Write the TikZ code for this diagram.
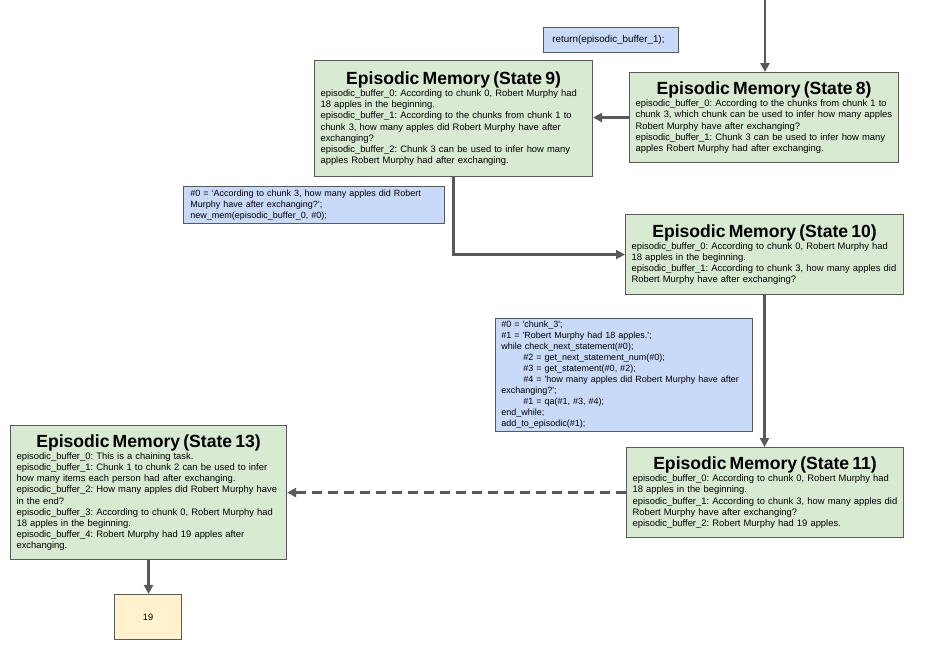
\documentclass[tikz,border=0pt]{standalone}
\usepackage{fontspec}
\setmainfont{Liberation Sans}
\usetikzlibrary{arrows.meta}
\definecolor{gfill}{HTML}{D9EAD3}
\definecolor{bfill}{HTML}{C9DAF8}
\definecolor{yfill}{HTML}{FFF2CC}
\definecolor{edgec}{HTML}{595959}
\frenchspacing
\newcommand{\memtitle}[1]{\makebox[\linewidth][c]{\fontsize{17.6}{20}\selectfont\bfseries #1}\\[1pt]}
\tikzset{
  membox/.style={draw=edgec, line width=1.1pt, fill=gfill, anchor=north west, inner sep=0pt,
    align=left, font=\fontsize{9.4}{11.1}\selectfont},
  codebox/.style={draw=edgec, line width=0.9pt, fill=bfill, anchor=north west, inner sep=0pt,
    align=left, font=\fontsize{9}{11}\selectfont},
  ansbox/.style={draw=edgec, line width=1.1pt, fill=yfill, anchor=north west, inner sep=0pt,
    align=center, font=\fontsize{9.2}{11}\selectfont},
  arr/.style={draw=edgec, line width=2.2pt, -{Triangle[length=9pt,width=9pt]}},
}
\begin{document}
\begin{tikzpicture}[x=1pt,y=-1pt]
\useasboundingbox (0,0) rectangle (927,657);
\fill[white] (0,0) rectangle (927,657);

\node[membox, minimum width=278pt, minimum height=116pt, text width=266pt] (s9) at (314,60) {%
\memtitle{Episodic Memory (State 9)}%
episodic\_buffer\_0: According to chunk 0, Robert Murphy had\\
18 apples in the beginning.\\
episodic\_buffer\_1: According to the chunks from chunk 1 to\\
chunk 3, how many apples did Robert Murphy have after\\
exchanging?\\
episodic\_buffer\_2: Chunk 3 can be used to infer how many\\
apples Robert Murphy had after exchanging.};

\node[membox, minimum width=269pt, minimum height=90pt, text width=257pt] (s8) at (629,72) {%
\memtitle{Episodic Memory (State 8)}%
episodic\_buffer\_0: According to the chunks from chunk 1 to\\
chunk 3, which chunk can be used to infer how many apples\\
Robert Murphy have after exchanging?\\
episodic\_buffer\_1: Chunk 3 can be used to infer how many\\
apples Robert Murphy had after exchanging.};

\node[membox, minimum width=278pt, minimum height=80pt, text width=266pt] (s10) at (625,214) {%
\memtitle{Episodic Memory (State 10)}%
episodic\_buffer\_0: According to chunk 0, Robert Murphy had\\
18 apples in the beginning.\\
episodic\_buffer\_1: According to chunk 3, how many apples did\\
Robert Murphy have after exchanging?};

\node[membox, minimum width=277pt, minimum height=90pt, text width=265pt] (s11) at (626,447) {%
\memtitle{Episodic Memory (State 11)}%
episodic\_buffer\_0: According to chunk 0, Robert Murphy had\\
18 apples in the beginning.\\
episodic\_buffer\_1: According to chunk 3, how many apples did\\
Robert Murphy have after exchanging?\\
episodic\_buffer\_2: Robert Murphy had 19 apples.};

\node[membox, minimum width=276pt, minimum height=134pt, text width=264pt] (s13) at (10,425) {%
\memtitle{Episodic Memory (State 13)}%
episodic\_buffer\_0: This is a chaining task.\\
episodic\_buffer\_1: Chunk 1 to chunk 2 can be used to infer\\
how many items each person had after exchanging.\\
episodic\_buffer\_2: How many apples did Robert Murphy have\\
in the end?\\
episodic\_buffer\_3: According to chunk 0, Robert Murphy had\\
18 apples in the beginning.\\
episodic\_buffer\_4: Robert Murphy had 19 apples after\\
exchanging.};

\node[ansbox, minimum width=67pt, minimum height=45pt] (ans) at (114,594) {19};

\node[codebox, minimum width=135pt, minimum height=25pt, text width=117pt, font=\fontsize{9.8}{11}\selectfont] (ret) at (543,27) {return(episodic\_buffer\_1);};

\node[codebox, minimum width=261pt, minimum height=37pt, text width=247pt] (c1) at (183,186) {%
\#0 = ‘According to chunk 3, how many apples did Robert\\
Murphy have after exchanging?’;\\
new\_mem(episodic\_buffer\_0, \#0);};

\node[codebox, minimum width=257pt, minimum height=113pt, text width=245pt] (c2) at (495,318) {%
\#0 = \textquotesingle chunk\_3\textquotesingle;\\
\#1 = \textquotesingle Robert Murphy had 18 apples.\textquotesingle;\\
while check\_next\_statement(\#0);\\
\hspace*{22pt}\#2 = get\_next\_statement\_num(\#0);\\
\hspace*{22pt}\#3 = get\_statement(\#0, \#2);\\
\hspace*{22pt}\#4 = \textquotesingle how many apples did Robert Murphy have after\\
exchanging?\textquotesingle;\\
\hspace*{22pt}\#1 = qa(\#1, \#3, \#4);\\
end\_while;\\
add\_to\_episodic(\#1);};

\coordinate (top) at (765,0);
\draw[arr] (top) -- (top |- s8.north);
\draw[arr] (s8.west) -- (s8.west -| s9.east);
\draw[arr] (s9.south) |- (s10.west);
\draw[arr] (s10.south) -- (s10.south |- s11.north);
\draw[arr, dash pattern=on 10pt off 6pt] (s11.west) -- (s11.west -| s13.east);
\draw[arr] (s13.south) -- (s13.south |- ans.north);
\end{tikzpicture}
\end{document}
